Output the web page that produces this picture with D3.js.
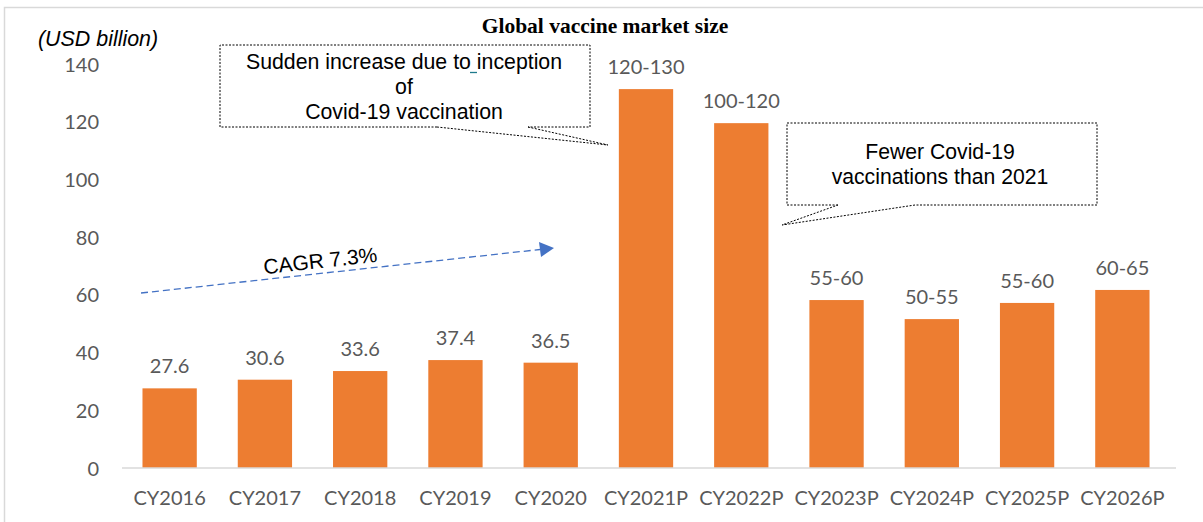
<!DOCTYPE html>
<html><head><meta charset="utf-8">
<script src="https://cdn.jsdelivr.net/npm/d3@7"></script>
<style>body{margin:0;background:#fff;} svg{display:block;}</style>
</head><body>
<svg id="c" width="1203" height="522"></svg>
<script>
const categories = ["CY2016","CY2017","CY2018","CY2019","CY2020","CY2021P","CY2022P","CY2023P","CY2024P","CY2025P","CY2026P"];
const values = [27.6, 30.6, 33.6, 37.4, 36.5, 131.3, 119.5, 58.2, 51.6, 57.2, 61.7];
const valueLabels = ["27.6","30.6","33.6","37.4","36.5","120-130","100-120","55-60","50-55","55-60","60-65"];
const yTicks = [0,20,40,60,80,100,120,140];
const title = "Global vaccine market size";
const unitLabel = "(USD billion)";
const note1 = ["Sudden increase due to inception","of","Covid-19 vaccination"];
const note2 = ["Fewer Covid-19","vaccinations than 2021"];
const cagrLabel = "CAGR 7.3%";

const svg = d3.select("#c");
const num = "Lato, 'Open Sans', sans-serif";
const ar = "'Liberation Sans', Arial, sans-serif";

// frame
svg.append("path").attr("d","M4.5,522 V7.5 H1203").attr("fill","none").attr("stroke","#d9d9d9").attr("stroke-width",1.5);

const x = d3.scaleBand().domain(categories).range([122,1170]).paddingInner(0.43).paddingOuter(0.215);
const y = d3.scaleLinear().domain([0,140]).range([468,64]);

// y tick labels
const yAxis = d3.axisLeft(y).tickValues(yTicks).tickSize(0).tickPadding(0);
const yg = svg.append("g").attr("transform","translate(99,0)").call(yAxis);
yg.select(".domain").remove();
yg.selectAll("text").attr("font-family",num).attr("font-size",20).attr("fill","#595959").attr("dy","0.35em");

// bars
svg.append("g").selectAll("rect").data(values).join("rect")
  .attr("x",(d,i)=>x(categories[i])).attr("width",x.bandwidth())
  .attr("y",d=>y(d)).attr("height",d=>y(0)-y(d)).attr("fill","#ED7D31");

// x axis
const xAxis = d3.axisBottom(x).tickSize(0).tickPadding(0);
const xg = svg.append("g").attr("transform","translate(0,468)").call(xAxis);
xg.select(".domain").attr("stroke","#d9d9d9").attr("stroke-width",1.5).attr("d","M122,0H1176");
xg.selectAll("text").attr("font-family",num).attr("font-size",20).attr("fill","#595959").attr("y",37).attr("dy","0");

// value labels
svg.append("g").selectAll("text").data(values).join("text")
  .attr("x",(d,i)=>x(categories[i])+x.bandwidth()/2).attr("y",d=>y(d)-15)
  .attr("text-anchor","middle").attr("font-family",num).attr("font-size",20).attr("fill","#595959")
  .text((d,i)=>valueLabels[i]);

// title
svg.append("text").attr("x",605).attr("y",33).attr("text-anchor","middle")
  .attr("font-family","'Liberation Serif','Times New Roman',serif").attr("font-weight","bold").attr("font-size",21.5).attr("fill","#000").text(title);

// unit
svg.append("text").attr("x",38).attr("y",46).attr("font-family",ar).attr("font-style","italic").attr("font-size",21.4).attr("fill","#000").text(unitLabel);

// callout 1
const c1 = svg.append("g");
c1.append("path").attr("d","M437,127 H220 V45 H590 V127 H528 M528,127 L608,145 L437,127")
  .attr("fill","none").attr("stroke","#000").attr("stroke-width",1).attr("stroke-dasharray","2,1.5");
note1.forEach((t,i)=>c1.append("text").attr("x",404).attr("y",69+i*25).attr("text-anchor","middle")
  .attr("font-family",ar).attr("font-size",21.3).attr("fill","#000").text(t));
c1.append("line").attr("x1",470).attr("x2",477).attr("y1",72.5).attr("y2",72.5).attr("stroke","#1f7a8c").attr("stroke-width",1.3);

// callout 2
const c2 = svg.append("g");
c2.append("path").attr("d","M838,205 H787 V123 H1097 V205 H915 L782,225 L838,205")
  .attr("fill","none").attr("stroke","#000").attr("stroke-width",1).attr("stroke-dasharray","2,1.5");
note2.forEach((t,i)=>c2.append("text").attr("x",940).attr("y",159+i*24.5).attr("text-anchor","middle")
  .attr("font-family",ar).attr("font-size",21.2).attr("fill","#000").text(t));

// CAGR arrow
svg.append("line").attr("x1",141).attr("y1",293).attr("x2",540).attr("y2",249.5)
  .attr("stroke","#4472C4").attr("stroke-width",1.3).attr("stroke-dasharray","7,4");
svg.append("path").attr("d","M539,242 L554,248 L541,257 Z").attr("fill","#4472C4");
svg.append("text").attr("transform","translate(321,268) rotate(-6.2)").attr("text-anchor","middle")
  .attr("font-family",ar).attr("font-size",21).attr("fill","#000").text(cagrLabel);
</script>
</body></html>
